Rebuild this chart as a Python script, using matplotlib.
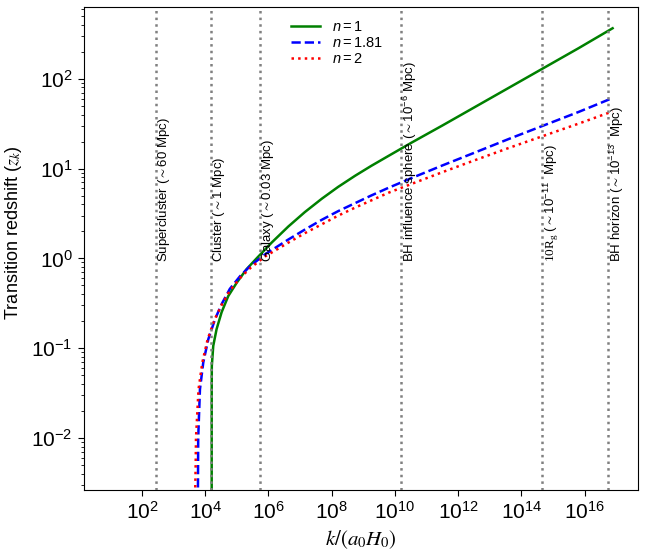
import numpy as np
import matplotlib
matplotlib.use('Agg')
import matplotlib.pyplot as plt
from matplotlib.ticker import LogLocator, NullLocator

plt.rcParams['font.family'] = ['Liberation Sans', 'DejaVu Sans']
plt.rcParams['mathtext.fontset'] = 'custom'
plt.rcParams['mathtext.rm'] = 'Liberation Sans'
plt.rcParams['mathtext.it'] = 'Liberation Sans:italic'
plt.rcParams['mathtext.bf'] = 'Liberation Sans:bold'
plt.rcParams['mathtext.cal'] = 'Liberation Serif'
plt.rcParams['mathtext.fallback'] = 'stixsans'

# curves, stored as log10 exponents
n1_logk = [4.206, 4.207, 4.21, 4.256, 4.36, 4.52, 4.73, 5.0, 5.31, 5.6, 6.1,
           6.63, 7.15, 7.69, 8.2, 8.74, 9.25, 9.79, 10.53, 11.5, 12.5, 13.6,
           14.7, 15.8, 16.88]
n1_logz = [-3.0, -1.46, -1.2, -0.974, -0.79, -0.6, -0.42, -0.27, -0.12, -0.01, 0.175,
           0.355, 0.515, 0.665, 0.795, 0.92, 1.03, 1.14, 1.29, 1.48, 1.68, 1.9,
           2.12, 2.34, 2.563]

n181_logk = [3.77, 3.78, 3.835, 3.94, 4.1, 4.31, 4.52, 4.78, 5.1, 5.42, 5.89,
             6.63, 7.15, 7.69, 8.2, 8.74, 9.25, 9.79, 10.53, 11.5, 12.5, 13.6,
             14.7, 15.8, 16.88]
n181_logz = [-2.7, -2.0, -1.46, -1.16, -0.9, -0.68, -0.51, -0.34, -0.2, -0.086, 0.044,
             0.21, 0.32, 0.43, 0.525, 0.615, 0.70, 0.785, 0.895, 1.035, 1.175, 1.33,
             1.48, 1.63, 1.786]

n2_logk = [3.68, 3.70, 3.71, 3.79, 3.91, 4.08, 4.3, 4.52, 4.78, 5.1, 5.42, 5.89,
           6.63, 7.15, 7.69, 8.2, 8.74, 9.25, 9.79, 10.53, 11.5, 12.5, 13.6,
           14.7, 15.8, 16.88]
n2_logz = [-2.7, -2.3, -2.0, -1.46, -1.16, -0.9, -0.68, -0.52, -0.36, -0.22, -0.11, 0.02,
           0.175, 0.28, 0.38, 0.475, 0.565, 0.645, 0.73, 0.83, 0.96, 1.09, 1.23,
           1.365, 1.5, 1.637]

# characteristic scales (vertical markers)
scale_logk = [2.44, 4.2, 5.73, 10.18, 14.65, 16.74]
scale_labels = ['Supercluster ($\\sim$60 Mpc)',
                'Cluster ($\\sim$1 Mpc)',
                'Galaxy ($\\sim$0.03 Mpc)',
                'BH influence sphere ($\\sim10^{-6}$ Mpc)',
                '$\\mathcal{10R}_{\\mathcal{g}}$ ($\\sim10^{-11}$  Mpc)',
                'BH horizon ($\\sim10^{-13}$  Mpc)']

fig = plt.figure(figsize=(6.45, 5.58), dpi=100)
ax = fig.add_axes([0.130, 0.1219, 0.859, 0.8656])

ax.plot(10**np.array(n1_logk), 10**np.array(n1_logz), color='green', lw=1.8, label='$n=1$')
ax.plot(10**np.array(n181_logk), 10**np.array(n181_logz), color='blue', lw=1.8, ls='--', label='$n=1.81$')
ax.plot(10**np.array(n2_logk), 10**np.array(n2_logz), color='red', lw=1.8, ls=':', label='$n=2$')

ax.set_xscale('log')
ax.set_yscale('log')
ax.set_xlim(10**0.165, 10**17.68)
ax.set_ylim(10**-2.58, 10**2.8)

for lk, lab in zip(scale_logk, scale_labels):
    ax.axvline(10**lk, color='gray', ls=':', lw=1.8, zorder=3)
    ax.text(10**lk, 10**-0.04, lab, rotation=90, ha='left', va='bottom', fontsize=9.5)

ax.set_xticks([10.0**e for e in range(2, 17, 2)])
ax.xaxis.set_minor_locator(NullLocator())
ax.yaxis.set_major_locator(LogLocator(base=10, numticks=10))
ax.yaxis.set_minor_locator(LogLocator(base=10, subs=np.arange(2, 10), numticks=20))

ax.tick_params(which='major', labelsize=15, length=4.5, direction='out')
ax.tick_params(which='minor', length=2.5, direction='out')

ax.set_xlabel('$k/(a_0H_0)$', fontsize=15, math_fontfamily='stix')
ax.set_ylabel('Transition redshift ($z_k$)', fontsize=13, math_fontfamily='stix')
ax.yaxis.set_label_coords(-0.108, 0.532)

ax.legend(loc='upper center', bbox_to_anchor=(0.457, 1.0), frameon=False,
          fontsize=10.5, handlelength=2.0, labelspacing=0.15)

fig.savefig('out.png', dpi=100)
